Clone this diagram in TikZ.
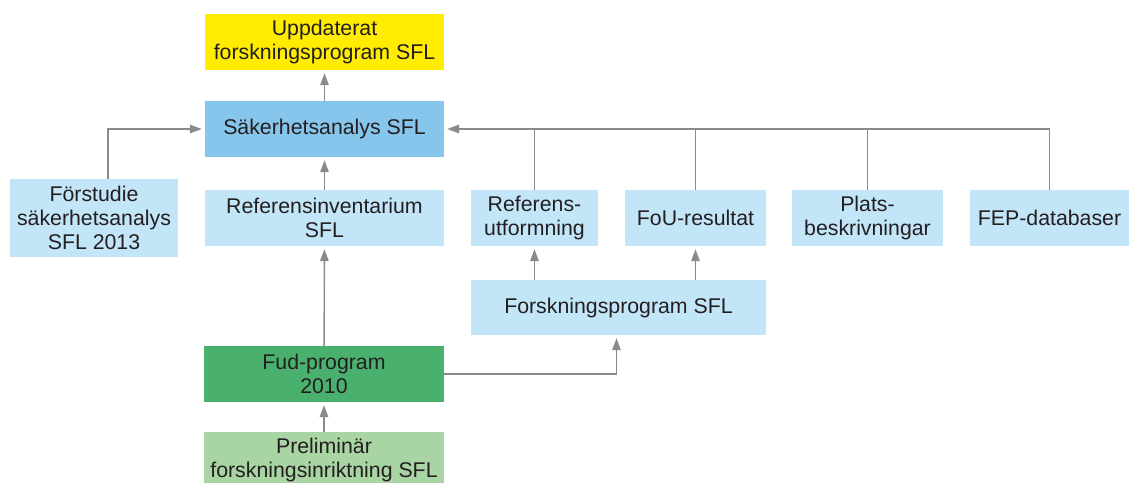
\documentclass[tikz,border=0pt]{standalone}
\usepackage{fontspec}
\setmainfont{Liberation Sans}
\usetikzlibrary{positioning, arrows.meta}
\definecolor{uppgul}{HTML}{FFEC00}
\definecolor{sakbla}{HTML}{86C5EC}
\definecolor{ljusbla}{HTML}{C3E5F8}
\definecolor{fudgron}{HTML}{4AB06E}
\definecolor{ljusgron}{HTML}{A9D4A3}
\definecolor{pilgra}{HTML}{8A8A8A}
\definecolor{textsvart}{HTML}{231F20}

\begin{document}
\begin{tikzpicture}[x=1pt, y=-1pt,
		box/.style={inner sep=0pt, align=center, minimum height=56pt, text=textsvart,
			font=\fontsize{21.3}{24}\selectfont},
		pil/.style={draw=pilgra, line width=1.4pt, -{Triangle[length=12pt,width=8.5pt]}, shorten >=3pt},
		linje/.style={draw=pilgra, line width=1.4pt}]
			\useasboundingbox (0,0) rectangle (1129,482);

			\node[box, fill=uppgul, minimum width=239pt] (Upd) at (324.5,42) {Uppdaterat\\forskningsprogram SFL};
			\node[box, fill=sakbla, minimum width=239pt] (Sak) at (324.5,129) {S\"akerhetsanalys SFL};
			\node[box, fill=ljusbla, minimum width=168pt, minimum height=78pt] (Forst) at (94,218) {F\"orstudie\\s\"akerhetsanalys\\SFL 2013};
			\node[box, fill=ljusbla, minimum width=239pt] (RefInv) at (324.5,218) {Referensinventarium\\SFL};
			\node[box, fill=ljusbla, minimum width=127pt] (RefUt) at (534.5,218) {Referens-\\utformning};
			\node[box, fill=ljusbla, minimum width=141pt] (FoU) at (695.5,218) {FoU-resultat};
			\node[box, fill=ljusbla, minimum width=151pt] (Plats) at (867.5,218) {Plats-\\beskrivningar};
			\node[box, fill=ljusbla, minimum width=159pt] (FEP) at (1049.5,218) {FEP-databaser};
			\node[box, fill=ljusbla, minimum width=295pt, minimum height=55pt] (Forsk) at (618.5,307.5) {Forskningsprogram SFL};
			\node[box, fill=fudgron, minimum width=240pt] (Fud) at (324,374) {Fud-program\\2010};
			\node[box, fill=ljusgron, minimum width=240pt] (Prel) at (324,460) {Prelimin\"ar\\forskningsinriktning SFL};

			\draw[pil] (Sak) -- (Upd);
			\draw[pil] (RefInv) -- (Sak);
			\draw[pil] (Fud) -- (RefInv);
			\draw[pil] (Prel) -- (Fud);

			\draw[pil] ([xshift=14pt]Forst.north) |- (Sak.west);
			\draw[pil] (FEP.north) |- (Sak.east);
			\draw[linje] (RefUt.north) -- (RefUt.north |- Sak.east);
			\draw[linje] (FoU.north) -- (FoU.north |- Sak.east);
			\draw[linje] (Plats.north) -- (Plats.north |- Sak.east);

			\draw[pil] (Forsk.north -| RefUt) -- (RefUt.south);
			\draw[pil] (Forsk.north -| FoU) -- (FoU.south);
			\draw[pil] (Fud.east) -| ([xshift=-2pt]Forsk.south);
		\end{tikzpicture}
\end{document}
